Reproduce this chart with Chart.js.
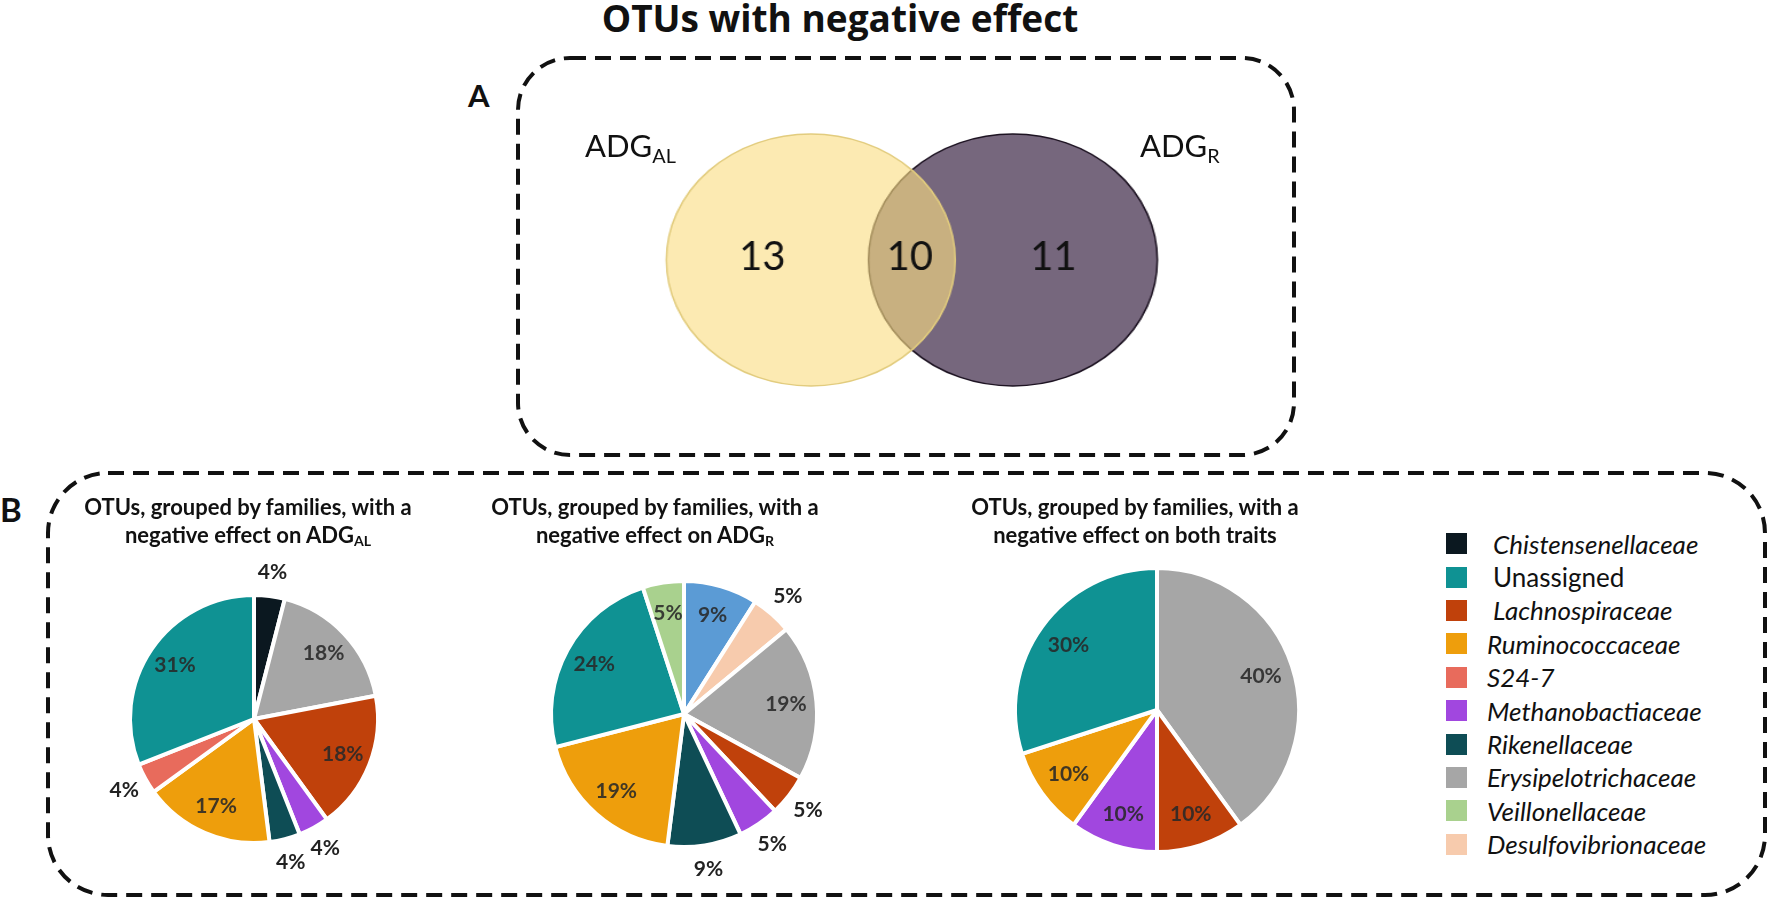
<!DOCTYPE html>
<html>
<head>
<meta charset="utf-8">
<script src="https://cdn.jsdelivr.net/npm/chart.js@4.4.0/dist/chart.umd.min.js"></script>
<style>
    body { margin: 0; background: #fff; font-family: Lato, 'Open Sans', sans-serif; color: #111; }
    #page { position: relative; width: 1770px; height: 906px; overflow: hidden; }
    .abs { position: absolute; line-height: 1; white-space: nowrap; }
    #mainTitle { left: 440px; width: 800px; top: -1px; text-align: center; font-family: 'Open Sans', sans-serif; font-weight: bold; font-size: 37px; }
    .panel { font-weight: bold; }
    .setName { font-size: 31px; }
    .sub { font-size: 0.64em; position: relative; }
    .setName .sub { top: 0.3em; }
    .pieTitle { width: 440px; text-align: center; font-weight: bold; font-size: 22px; line-height: 28px; top: 493px; }
    .pieTitle .sub { top: 0.2em; }
    #vennBox { left: 548px; top: 100px; transform: scaleX(1.146); transform-origin: 0 0; }
    #legend { left: 1446px; top: 527px; }
    .row { display: flex; align-items: center; height: 33.4px; }
    .swatch { width: 21px; height: 21px; margin-right: 20px; }
    .row span { font-size: 26px; line-height: 1; }
</style>
</head>
<body>
<div id="page">
    <svg class="abs" style="left:0;top:0" width="1770" height="906">
        <rect x="518" y="58" width="776" height="397" rx="52" ry="52" fill="none" stroke="#111" stroke-width="4" stroke-dasharray="16 9"/>
        <rect x="48" y="473" width="1717" height="422" rx="60" ry="60" fill="none" stroke="#111" stroke-width="4" stroke-dasharray="16 9"/>
    </svg>

    <div id="mainTitle" class="abs">OTUs with negative effect</div>
    <div class="abs panel" style="left:468px;top:80px;font-size:31px">A</div>
    <div class="abs panel" style="left:0;top:493px;font-size:33px">B</div>

    <div id="vennBox" class="abs"><canvas id="venn" width="635" height="320"></canvas></div>
    <div class="abs setName" style="left:585px;top:130px">ADG<span class="sub">AL</span></div>
    <div class="abs setName" style="left:1140px;top:130px">ADG<span class="sub">R</span></div>

    <div class="abs" style="left:64px;top:529px"><canvas id="pieAL" width="380" height="380"></canvas></div>
    <div class="abs" style="left:494px;top:524px"><canvas id="pieR" width="380" height="380"></canvas></div>
    <div class="abs" style="left:967px;top:520px"><canvas id="pieBoth" width="380" height="380"></canvas></div>

    <div class="abs pieTitle" style="left:28px">OTUs, grouped by families, with a<br>negative effect on ADG<span class="sub">AL</span></div>
    <div class="abs pieTitle" style="left:435px">OTUs, grouped by families, with a<br>negative effect on ADG<span class="sub">R</span></div>
    <div class="abs pieTitle" style="left:915px">OTUs, grouped by families, with a<br>negative effect on both traits</div>

    <div id="legend" class="abs"></div>
</div>

<script>
// Families shown in the legend, with their colours
const families = ['Chistensenellaceae', 'Unassigned', 'Lachnospiraceae', 'Ruminococcaceae', 'S24-7',
    'Methanobactiaceae', 'Rikenellaceae', 'Erysipelotrichaceae', 'Veillonellaceae', 'Desulfovibrionaceae'];
const familyColors = ['#0b1820', '#0f9293', '#c0410b', '#ee9e0c', '#e86b5c',
    '#a147df', '#0e4d55', '#a6a6a6', '#a9d18e', '#f7cbad'];
// one slice of the ADG_R pie has no legend entry
const unlistedName = 'Unlisted';
const unlistedColor = '#5b9bd5';

// Venn counts: only ADG_AL, both, only ADG_R
const vennSets = ['ADG_AL', 'ADG_R'];
const vennCounts = [13, 10, 11];

// Pie slices, clockwise from 12 o'clock (percent)
const alLabels = ['Chistensenellaceae', 'Erysipelotrichaceae', 'Lachnospiraceae', 'Methanobactiaceae',
    'Rikenellaceae', 'Ruminococcaceae', 'S24-7', 'Unassigned'];
const alValues = [4, 18, 18, 4, 4, 17, 4, 31];

const rLabels = [unlistedName, 'Desulfovibrionaceae', 'Erysipelotrichaceae', 'Lachnospiraceae',
    'Methanobactiaceae', 'Rikenellaceae', 'Ruminococcaceae', 'Unassigned', 'Veillonellaceae'];
const rValues = [9, 5, 19, 5, 5, 9, 19, 24, 5];

const bothLabels = ['Erysipelotrichaceae', 'Lachnospiraceae', 'Methanobactiaceae', 'Ruminococcaceae', 'Unassigned'];
const bothValues = [40, 10, 10, 10, 30];

// where each percentage label sits (inside / outside the slice)
const alPlacement = ['out', 'in', 'in', 'out', 'out', 'in', 'out', 'in'];
const rPlacement = ['in', 'out', 'in', 'out', 'out', 'out', 'in', 'in', 'in'];
const bothPlacement = ['in', 'in', 'in', 'in', 'in'];

const STRETCH = 1.146; // venn canvas is stretched horizontally -> ellipses

function colorOf(name) {
    const i = families.indexOf(name);
    return i >= 0 ? familyColors[i] : unlistedColor;
}

// Percentage labels on the pies
const sliceLabels = {
    id: 'sliceLabels',
    afterDatasetsDraw(chart, args, opts) {
        const ctx = chart.ctx;
        const meta = chart.getDatasetMeta(0);
        const values = chart.data.datasets[0].data;
        ctx.save();
        ctx.font = 'bold 21px Lato';
        ctx.textAlign = 'center';
        ctx.textBaseline = 'middle';
        meta.data.forEach((arc, i) => {
            const p = arc.getProps(['x', 'y', 'startAngle', 'endAngle', 'outerRadius'], true);
            const mid = (p.startAngle + p.endAngle) / 2;
            const out = opts.placement[i] === 'out';
            const r = out ? p.outerRadius + 24 : p.outerRadius * 0.77;
            ctx.fillStyle = out ? '#222' : 'rgba(40,40,40,0.88)';
            ctx.fillText(values[i] + '%', p.x + Math.cos(mid) * r, p.y + Math.sin(mid) * r);
        });
        ctx.restore();
    }
};

// Counts inside the venn regions (text un-stretched)
const vennText = {
    id: 'vennText',
    afterDatasetsDraw(chart, args, opts) {
        const ctx = chart.ctx;
        const xs = chart.scales.x, ys = chart.scales.y;
        ctx.save();
        ctx.font = '40px Lato';
        ctx.fillStyle = '#111';
        ctx.textAlign = 'center';
        ctx.textBaseline = 'middle';
        vennCounts.forEach((n, i) => {
            ctx.save();
            ctx.translate(xs.getPixelForValue(opts.at[i]), ys.getPixelForValue(0.02));
            ctx.scale(1 / STRETCH, 1);
            ctx.fillText(String(n), 0, 0);
            ctx.restore();
        });
        ctx.restore();
    }
};

function makePie(id, labels, values, placement, radius) {
    return new Chart(document.getElementById(id), {
        type: 'pie',
        data: {
            labels: labels,
            datasets: [{
                data: values,
                backgroundColor: labels.map(colorOf),
                borderColor: '#fff',
                borderWidth: 4
            }]
        },
        options: {
            responsive: false,
            animation: false,
            events: [],
            radius: radius,
            layout: { padding: 0 },
            plugins: {
                legend: { display: false },
                tooltip: { enabled: false },
                sliceLabels: { placement: placement }
            }
        },
        plugins: [sliceLabels]
    });
}

new Chart(document.getElementById('venn'), {
    type: 'bubble',
    data: {
        datasets: [
            { label: vennSets[0], data: [{ x: 0, y: 0 }], radius: 126,
              backgroundColor: 'rgba(250,221,130,0.62)', borderColor: '#e2cc7e', borderWidth: 1.5 },
            { label: vennSets[1], data: [{ x: 1, y: 0 }], radius: 126,
              backgroundColor: '#76677d', borderColor: '#1d1322', borderWidth: 1.5 }
        ]
    },
    options: {
        responsive: false,
        animation: false,
        events: [],
        layout: { padding: 0, autoPadding: false },
        scales: {
            x: { display: false, min: -1.3, max: 2.3 },
            y: { display: false, min: -1, max: 1 }
        },
        plugins: {
            legend: { display: false },
            tooltip: { enabled: false },
            vennText: { at: [-0.24, 0.49, 1.2] }
        }
    },
    plugins: [vennText]
});

makePie('pieAL', alLabels, alValues, alPlacement, 124);
makePie('pieR', rLabels, rValues, rPlacement, 133);
makePie('pieBoth', bothLabels, bothValues, bothPlacement, 142);

// Legend (first three names sit a little further right in the original)
const legend = document.getElementById('legend');
families.forEach((name, i) => {
    const row = document.createElement('div');
    row.className = 'row';
    const sw = document.createElement('div');
    sw.className = 'swatch';
    sw.style.background = familyColors[i];
    const txt = document.createElement('span');
    txt.textContent = name;
    if (name !== 'Unassigned') txt.style.fontStyle = 'italic';
    if (i < 3) txt.style.paddingLeft = '6px';
    row.appendChild(sw);
    row.appendChild(txt);
    legend.appendChild(row);
});
</script>
</body>
</html>
